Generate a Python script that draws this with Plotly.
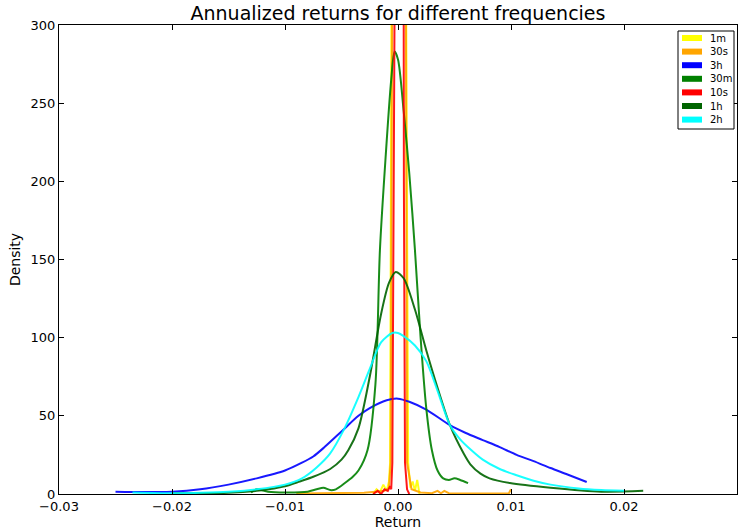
import plotly.graph_objects as go

# ---------------- data ----------------
x_1m = [-0.0022, -0.0019, -0.0016, -0.0013, -0.0010, -0.0008, -0.0007, -0.00058, -0.0005, 0.0001, 0.00065, 0.00075, 0.0009, 0.0011, 0.0013, 0.0015, 0.0017, 0.0019]
y_1m = [0, 3, 1, 6, 2, 8, 20, 250, 500, 800, 500, 250, 20, 4, 8, 2, 9, 0]

x_30s = [-0.009, -0.007, -0.005, -0.003, -0.002, -0.0012, -0.0008, -0.00065, -0.00052, -0.00045, 0.0001, 0.0006, 0.00068, 0.0008, 0.0012, 0.002, 0.003, 0.0035, 0.0038, 0.0041, 0.0045, 0.006, 0.008, 0.0098, 0.01]
y_30s = [0.3, 0.4, 0.5, 0.8, 1.5, 2, 4, 20, 300, 600, 900, 600, 300, 20, 3, 1, 0.5, 2, 0.5, 2, 0.5, 0.3, 0.3, 0.3, 3]

x_3h = [-0.025, -0.0225, -0.02, -0.0175, -0.015, -0.0125, -0.01, -0.0085, -0.0075, -0.0065, -0.005, -0.0035, -0.0025, -0.001, 0.0, 0.001, 0.0025, 0.0046, 0.006, 0.0075, 0.009, 0.0105, 0.012, 0.0135, 0.015, 0.0167]
y_3h = [1.5, 1.2, 1.5, 3, 6, 10, 15, 20, 24, 30, 40, 50, 55, 60, 61, 59, 54, 44, 39, 34.5, 30, 25, 21, 16.6, 12.5, 7.7]

x_30m = [-0.013, -0.0125, -0.0115, -0.01, -0.008, -0.0072, -0.0066, -0.006, -0.0055, -0.0047, -0.004, -0.0035, -0.0027, -0.002, -0.0016, -0.0011, -0.0006, -0.0003, 0.0, 0.0005, 0.001, 0.0015, 0.002, 0.0025, 0.003, 0.0035, 0.004, 0.0045, 0.005, 0.0055, 0.0062]
y_30m = [1, 3, 1.5, 1, 1.5, 3, 4, 2.5, 3, 7, 11, 15, 28, 70, 156, 215, 265, 283, 278, 245, 205, 156, 100, 55, 28, 15, 10, 9, 10, 9, 7]

x_10s = [-0.0022, -0.0018, -0.0015, -0.0012, -0.0009, -0.0007, -0.0006, -0.0005, -0.00038, -0.00032, 0.0001, 0.00046, 0.00052, 0.00062, 0.0008, 0.001]
y_10s = [0, 2, 0, 3, 2, 5, 3, 20, 200, 600, 900, 600, 200, 20, 3, 0]

x_1h = [-0.02, -0.015, -0.0125, -0.0115, -0.01, -0.0087, -0.0075, -0.006, -0.005, -0.0044, -0.0035, -0.0025, -0.0015, -0.0008, -0.0002, 0.0005, 0.0015, 0.0025, 0.0035, 0.0046, 0.0058, 0.0064, 0.0073, 0.0081, 0.0099, 0.0135, 0.018, 0.0217]
y_1h = [0.5, 0.8, 2, 3, 5, 8, 11, 16, 22, 28, 42, 75, 115, 135, 142, 138, 118, 92, 68, 44, 26, 19, 13, 10, 7, 4, 1.5, 2]

x_2h = [-0.0235, -0.02, -0.0175, -0.015, -0.0125, -0.01, -0.0085, -0.0072, -0.006, -0.0048, -0.0035, -0.0025, -0.0015, -0.0005, 0.0, 0.0005, 0.0015, 0.0025, 0.0035, 0.0046, 0.0055, 0.0065, 0.0075, 0.009, 0.0105, 0.012, 0.0135, 0.016, 0.018, 0.02]
y_2h = [1, 0.5, 0.8, 1.5, 3, 6, 10, 17, 26, 41, 62, 80, 97, 103, 103, 101, 95, 85, 66, 44, 35, 28, 22, 16, 12, 8.5, 6, 3.5, 2.5, 2]

series = [
    ("1m", x_1m, y_1m, "#FFFF00", "linear"),
    ("30s", x_30s, y_30s, "#FFA500", "linear"),
    ("3h", x_3h, y_3h, "#0000FF", "spline"),
    ("30m", x_30m, y_30m, "#008000", "spline"),
    ("10s", x_10s, y_10s, "#FF0000", "linear"),
    ("1h", x_1h, y_1h, "#006400", "spline"),
    ("2h", x_2h, y_2h, "#00FFFF", "spline"),
]

x_ticks = [-0.03, -0.02, -0.01, 0.0, 0.01, 0.02, 0.03]
y_ticks = [0, 50, 100, 150, 200, 250, 300]

fig = go.Figure()
for name, xs, ys, col, shp in series:
    line = dict(color=col, width=2, shape=shp)
    if shp == "spline":
        line["smoothing"] = 0.8
    fig.add_trace(go.Scatter(x=xs, y=ys, mode="lines", name=name,
                             line=line, opacity=0.9, showlegend=False))

# ---- legend drawn in the plot area (paper coords of the plot domain) ----
L, R, T, B = 59, 737, 25, 494
def px(v):
    return (v - L) / (R - L)
def py(v):
    return (B - v) / (B - T)

fig.add_shape(type="rect", xref="paper", yref="paper",
              x0=px(678), x1=px(734), y0=py(129), y1=py(31),
              line=dict(color="black", width=1), fillcolor="white", layer="above")
for i, (name, xs, ys, col, shp) in enumerate(series):
    cy = 38 + i * 13.6
    fig.add_shape(type="rect", xref="paper", yref="paper",
                  x0=px(682), x1=px(702), y0=py(cy + 3), y1=py(cy - 3),
                  line=dict(width=0), fillcolor=col, layer="above")
    fig.add_annotation(x=px(708), y=py(cy), xref="paper", yref="paper", text=name,
                       showarrow=False, xanchor="left", yanchor="middle",
                       font=dict(size=10, color="black"))

axis_common = dict(showline=True, linecolor="black", linewidth=1, mirror="ticks",
                   ticks="inside", ticklen=5, tickcolor="black", showgrid=False,
                   zeroline=False, automargin=False, tickfont=dict(size=13, color="black"))
fig.update_xaxes(range=[-0.03, 0.03], tickvals=x_ticks, tickformat=".2f",
                 title=dict(text="Return", font=dict(size=14, color="black"), standoff=3),
                 **axis_common)
fig.update_yaxes(range=[0, 300], tickvals=y_ticks,
                 title=dict(text="Density", font=dict(size=14, color="black"), standoff=6),
                 **axis_common)

fig.update_layout(
    width=751, height=531,
    margin=dict(l=59, r=14, t=25, b=37),
    paper_bgcolor="white", plot_bgcolor="white",
    font=dict(family="DejaVu Sans", color="black"),
    title=dict(text="Annualized returns for different frequencies", x=0.5, xref="paper",
               xanchor="center", y=0.987, yanchor="top", font=dict(size=19, color="black")),
    showlegend=False,
)

fig.write_html("out.html")
